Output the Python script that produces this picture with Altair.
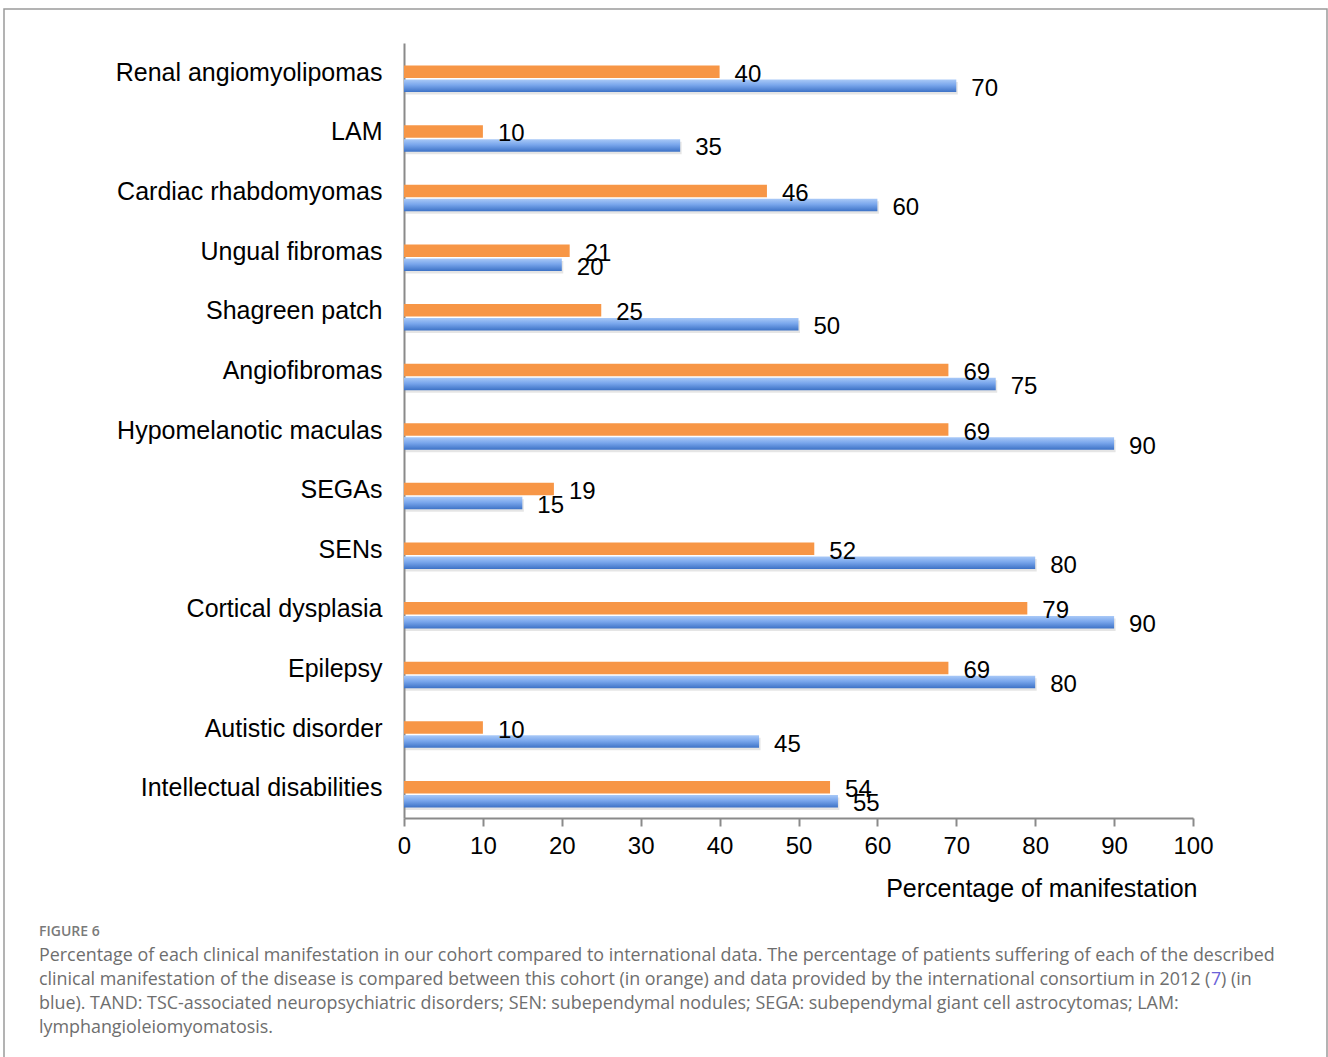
import altair as alt
import pandas as pd

# Clinical manifestations, top to bottom
categories = [
    "Renal angiomyolipomas",
    "LAM",
    "Cardiac rhabdomyomas",
    "Ungual fibromas",
    "Shagreen patch",
    "Angiofibromas",
    "Hypomelanotic maculas",
    "SEGAs",
    "SENs",
    "Cortical dysplasia",
    "Epilepsy",
    "Autistic disorder",
    "Intellectual disabilities",
]
# Percentage in this cohort (orange)
cohort = [40, 10, 46, 21, 25, 69, 69, 19, 52, 79, 69, 10, 54]
# Percentage reported by the international consortium, 2012 (blue)
international = [70, 35, 60, 20, 50, 75, 90, 15, 80, 90, 80, 45, 55]

x_ticks = list(range(0, 101, 10))

caption_head = "FIGURE 6"
caption_line1 = ("Percentage of each clinical manifestation in our cohort compared to "
                 "international data. The percentage of patients suffering of each of the described")
caption_line2a = ("clinical manifestation of the disease is compared between this cohort "
                  "(in orange) and data provided by the international consortium in 2012 (")
caption_ref = "7"
caption_line2b = ") (in"
caption_line3 = ("blue). TAND: TSC-associated neuropsychiatric disorders; SEN: subependymal "
                 "nodules; SEGA: subependymal giant cell astrocytomas; LAM:")
caption_line4 = "lymphangioleiomyomatosis."

df = pd.DataFrame({"cat": categories, "cohort": cohort, "intl": international})

FONT = "Liberation Sans"
CAP_FONT = "Open Sans"
CAP_SIZE = 17.9
CAP_GRAY = "#6e6e6e"
W, H = 789, 775
BAR_H = 12.5

y_enc = alt.Y("cat:N", sort=categories, title=None,
              scale=alt.Scale(paddingInner=0, paddingOuter=0),
              axis=alt.Axis(labelFont=FONT, labelFontSize=25, labelColor="#000",
                            labelPadding=22, ticks=False, domainColor="#8a8a8a",
                            domainWidth=2, labelLimit=400))
x_scale = alt.Scale(domain=[0, 100], nice=False)
x_axis = alt.Axis(values=x_ticks, grid=False, labelFont=FONT, labelFontSize=24,
                  labelColor="#000", labelFlush=False, tickColor="#8a8a8a",
                  tickSize=8, tickWidth=2, domainColor="#8a8a8a", domainWidth=2,
                  labelPadding=8, title="Percentage of manifestation",
                  titleFont=FONT, titleFontSize=25, titleFontWeight="normal",
                  titleColor="#000", titleX=W + 4, titleY=70, titleAlign="right",
                  titleBaseline="middle")

base = alt.Chart(df)

blue_grad = alt.Gradient(
    gradient="linear",
    stops=[alt.GradientStop(color="#a9c9f7", offset=0),
           alt.GradientStop(color="#79a6ec", offset=0.45),
           alt.GradientStop(color="#3d72c6", offset=1)],
    x1=0, x2=0, y1=0, y2=1,
)

shadow = base.mark_bar(height=BAR_H, yOffset=15.5, xOffset=1.5, color="#000",
                       opacity=0.10).encode(
    x=alt.X("intl:Q", scale=x_scale, axis=x_axis), y=y_enc)

bars_c = base.mark_bar(height=BAR_H, yOffset=-1, color="#f79646").encode(
    x=alt.X("cohort:Q", scale=x_scale, axis=x_axis), y=y_enc)
bars_i = base.mark_bar(height=BAR_H, yOffset=13, color=blue_grad).encode(
    x=alt.X("intl:Q", scale=x_scale, axis=x_axis), y=y_enc)

lab_c = base.mark_text(align="left", baseline="middle", dx=15, dy=2, font=FONT,
                       fontSize=24, color="#000").encode(
    x=alt.X("cohort:Q", scale=x_scale), y=y_enc, text="cohort:Q")
lab_i = base.mark_text(align="left", baseline="middle", dx=15, dy=16, font=FONT,
                       fontSize=24, color="#000").encode(
    x=alt.X("intl:Q", scale=x_scale), y=y_enc, text="intl:Q")

# Caption and frame, placed around the plot area
one = alt.Chart(pd.DataFrame({"k": [0]}))
frame = one.mark_rect(fill=None, stroke="#9a9a9a", strokeWidth=1.5).encode(
    x=alt.value(-400), x2=alt.value(923), y=alt.value(-34), y2=alt.value(1040))

head = one.mark_text(align="left", baseline="middle", font=CAP_FONT, fontSize=14,
                     fontWeight=600, color="#7a7a7a", text=caption_head).encode(
    x=alt.value(-365), y=alt.value(889))


def cap_text(txt, x, y, color=CAP_GRAY):
    return one.mark_text(align="left", baseline="middle", font=CAP_FONT,
                         fontSize=CAP_SIZE, color=color, text=txt).encode(
        x=alt.value(x), y=alt.value(y))


cap_layers = [
    cap_text(caption_line1, -365, 913),
    cap_text(caption_line2a, -365, 937),
    cap_text(caption_ref, 807, 937, color="#6a62d8"),
    cap_text(caption_line2b, 817, 937),
    cap_text(caption_line3, -365, 961),
    cap_text(caption_line4, -365, 985),
]

chart = alt.layer(frame, shadow, bars_c, bars_i, lab_c, lab_i, head,
                  *cap_layers).properties(
    width=W, height=H,
    autosize=alt.AutoSizeParams(type="none"),
    padding={"left": 404, "top": 43, "right": 135, "bottom": 239},
).configure(background="white").configure_view(stroke=None)

chart.save("out.html", embed_options={"renderer": "svg", "actions": False})
